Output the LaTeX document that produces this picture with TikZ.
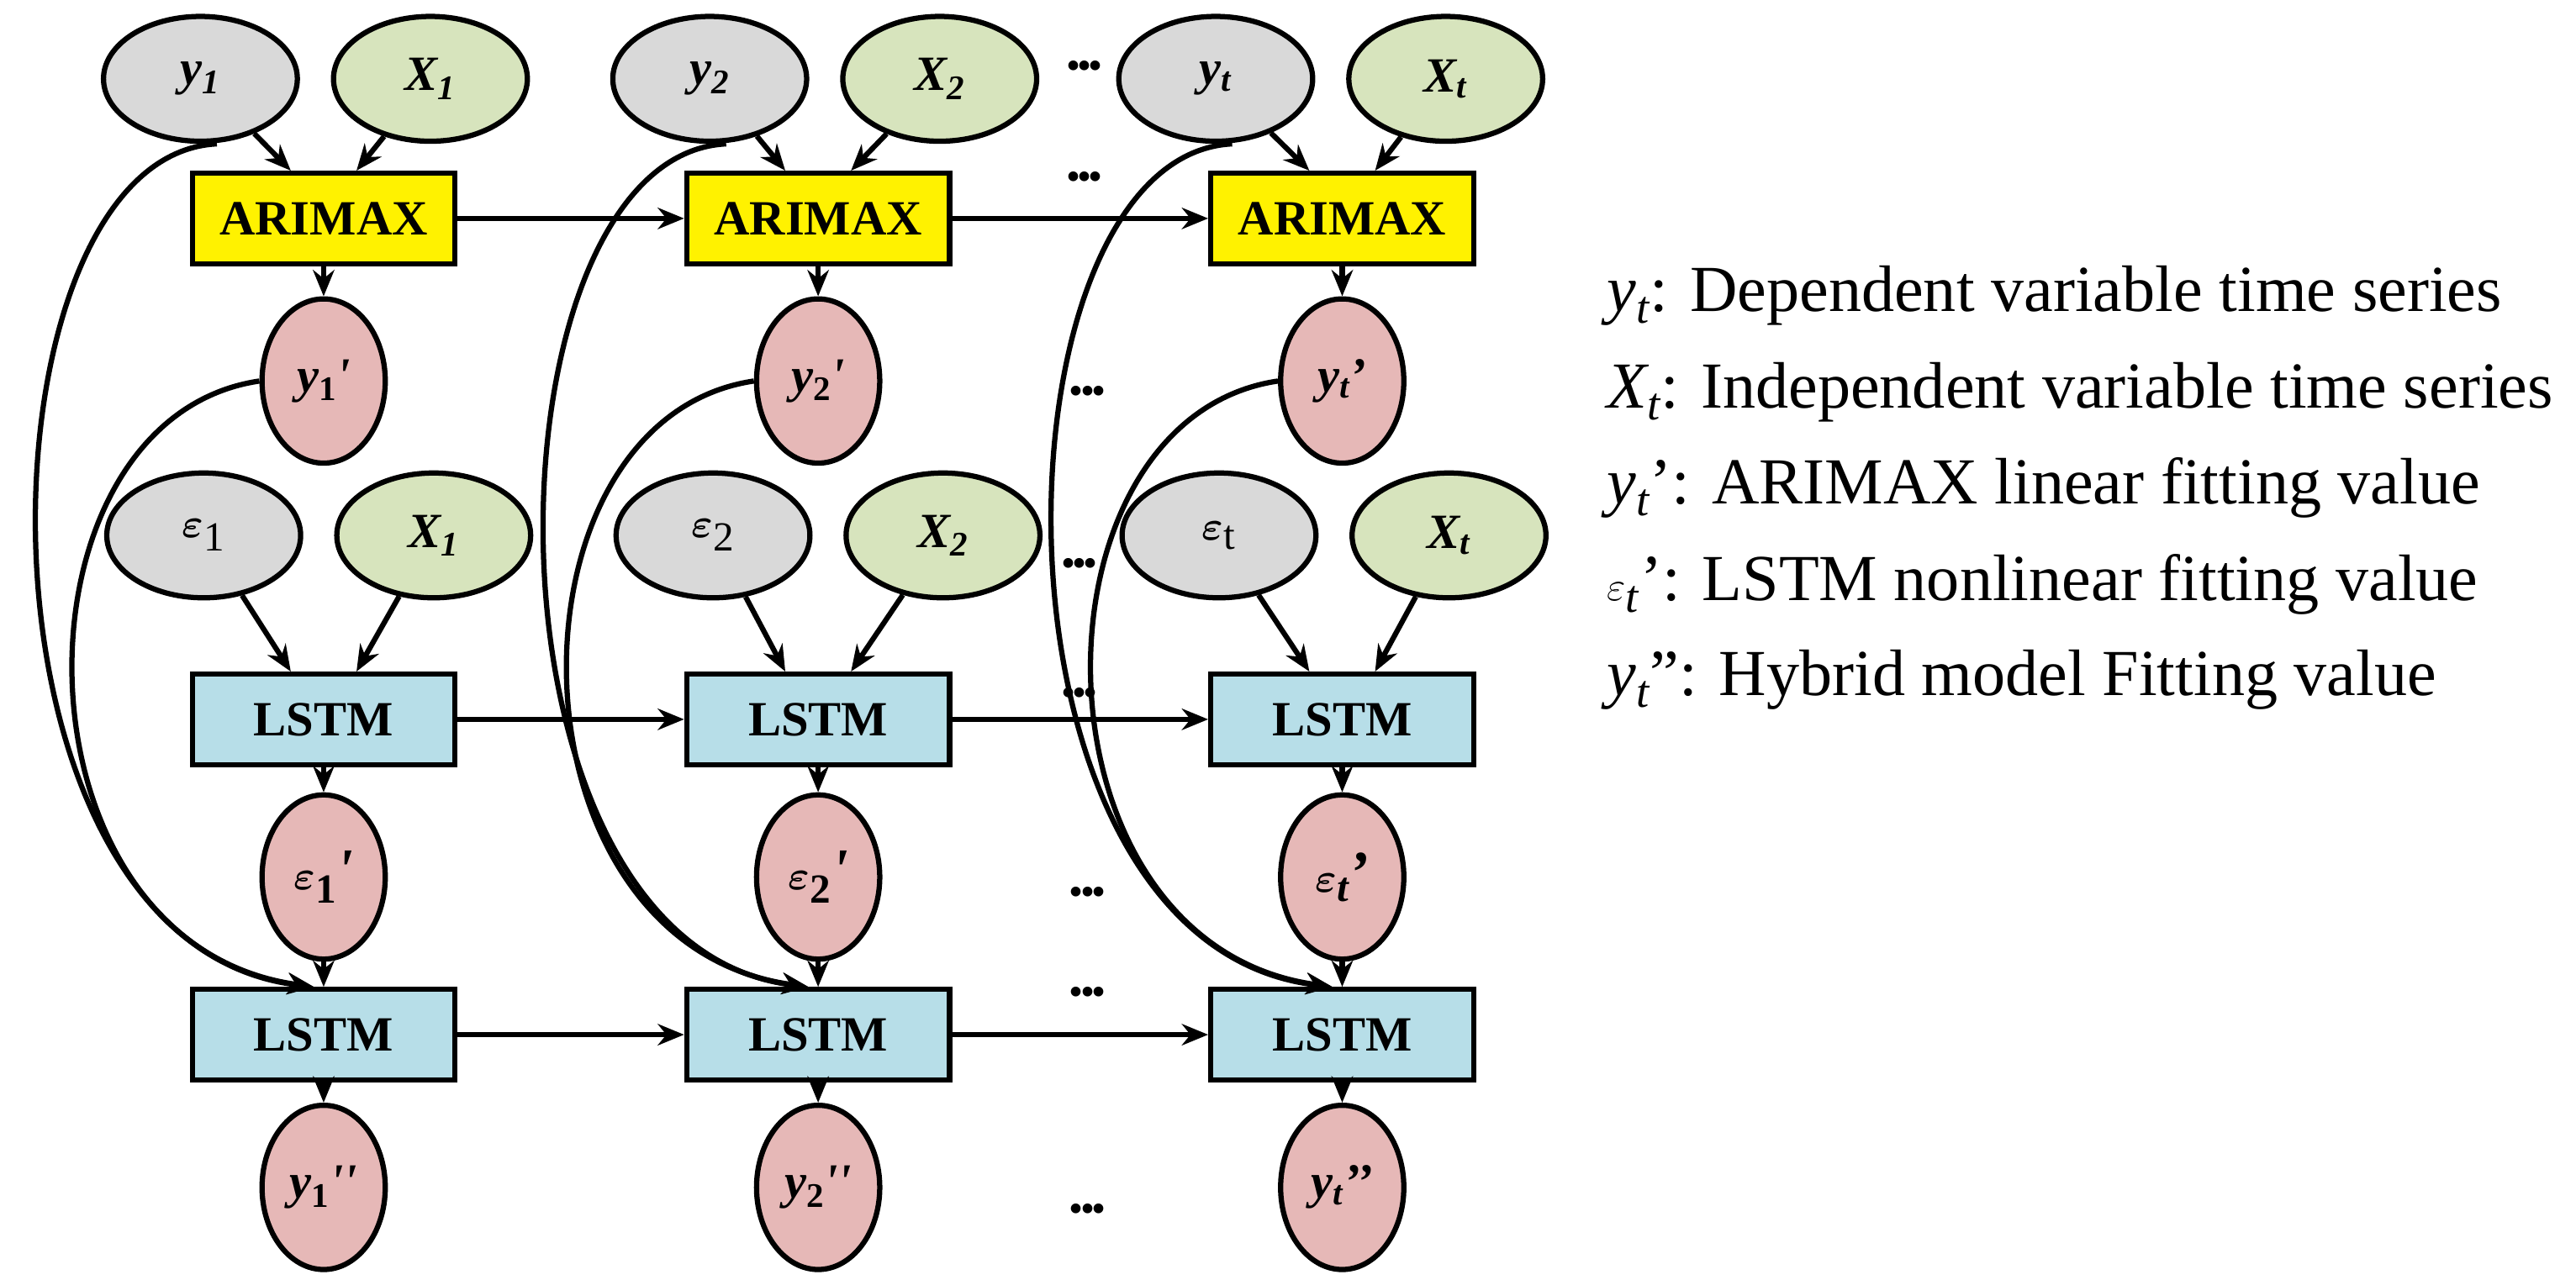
\documentclass[tikz,border=0pt]{standalone}
\usepackage{amsmath}
\usepackage{fontspec}
\setmainfont{Liberation Serif}
\usetikzlibrary{arrows.meta,shapes.geometric}
\begin{document}
\begin{tikzpicture}[x=1pt,y=-1pt,
 lw/.style={line width=3.2pt},
 ar/.style={lw,-{Stealth[length=16pt,width=13pt]}},
 el/.style={ellipse,draw,lw,minimum width=118pt,minimum height=76pt,inner sep=0pt,font=\fontsize{30}{30}\selectfont\bfseries\itshape},
 gy/.style={el,fill=gray!30},
 gr/.style={el,fill={rgb,255:red,215;green,228;blue,189}},
 pk/.style={ellipse,draw,lw,fill={rgb,255:red,230;green,184;blue,183},minimum width=75pt,minimum height=100pt,inner sep=0pt,font=\fontsize{30}{30}\selectfont\bfseries\itshape},
 bx/.style={draw,lw,minimum width=160pt,minimum height=55pt,inner sep=0pt,font=\fontsize{30}{30}\selectfont\bfseries},
 ari/.style={bx,fill=yellow},
 ls/.style={bx,fill={rgb,255:red,183;green,222;blue,232}},
 dots/.style={font=\fontsize{22}{22}\selectfont\bfseries,inner sep=0pt},
 leg/.style={anchor=west,font=\fontsize{40}{42}\selectfont,inner sep=0pt}]
\useasboundingbox (0,0) rectangle (1568,779);
\newcommand{\sub}[1]{\textsubscript{#1}}
\newcommand{\ep}{\fontsize{36}{36}\selectfont$\boldsymbol{\varepsilon}$}
\foreach \i/\cx/\bx/\a/\b/\c/\d/\e/\f/\g in {
 1/122/197/{1}/{\upshape 1}/{1}/{\upshape 1}/{\upshape 1}/{\upshape 1}/{\textquotesingle},
 2/432/498/{2}/{\upshape 2}/{2}/{\upshape 2}/{\upshape 2}/{\upshape 2}/{\textquotesingle},
 3/740/817/{t}/{t}/{t}/{\upshape t}/{t}/{t}/{\textquoteright}}{
 \node[gy] (y\i) at (\cx,48) {y\sub{\a}};
 \node[gr] (x\i) at (\cx+140,48) {X\sub{\a}};
 \node[ari] (A\i) at (\bx,133) {ARIMAX};
 \node[pk] (yp\i) at (\bx,232) {y\sub{\b}\g};
 \node[gy,font=\fontsize{30}{30}\selectfont\itshape] (e\i) at (\cx+2,326) {\ep\sub{\d}};
 \node[gr] (xx\i) at (\cx+142,326) {X\sub{\c}};
 \node[ls] (L\i) at (\bx,438) {LSTM};
 \node[pk] (ep\i) at (\bx,534) {\ep\sub{\e}\g};
 \node[ls] (M\i) at (\bx,630) {LSTM};
 \node[pk] (ypp\i) at (\bx,723) {y\sub{\f}\g\g};
 \draw[ar] (y\i) -- ([xshift=-20pt]A\i.north);
 \draw[ar] (x\i) -- ([xshift=20pt]A\i.north);
 \draw[ar] (e\i) -- ([xshift=-20pt]L\i.north);
 \draw[ar] (xx\i) -- ([xshift=20pt]L\i.north);
 \draw[ar] (A\i) -- (yp\i);
 \draw[ar] (L\i) -- (ep\i);
 \draw[ar] (ep\i) -- (M\i);
 \draw[ar] (M\i) -- (ypp\i);
 \draw[ar] ([xshift=10pt]y\i.south) .. controls (\cx-140,95) and (\cx-150,575) .. ([xshift=-6pt]M\i.north);
 \draw[ar] (yp\i.west) .. controls (\bx-195,255) and (\bx-195,575) .. ([xshift=-6pt]M\i.north);
}
\draw[ar] (A1) -- (A2); \draw[ar] (A2) -- (A3);
\draw[ar] (L1) -- (L2); \draw[ar] (L2) -- (L3);
\draw[ar] (M1) -- (M2); \draw[ar] (M2) -- (M3);
\foreach \p/\q in {660/42,660/110,662/240,657/345,657/424,662/545,662/606,662/738}
 \node[dots] at (\p,\q) {\textbullet\kern-1pt\textbullet\kern-1pt\textbullet};
\node[leg] (l1) at (978,180) {\textit{y\textsubscript{t}}: Dependent variable time series};
\node[leg] (l2) at (978,239) {\textit{X\textsubscript{t}}: Independent variable time series};
\node[leg] (l3) at (978,297) {\textit{y\textsubscript{t}}\textquoteright: ARIMAX linear fitting value};
\node[leg] (l4) at (978,356) {$\varepsilon$\textsubscript{\textit{t}}\textquoteright: LSTM nonlinear fitting value};
\node[leg] (l5) at (978,414) {\textit{y\textsubscript{t}}": Hybrid model Fitting value};
\end{tikzpicture}
\end{document}
